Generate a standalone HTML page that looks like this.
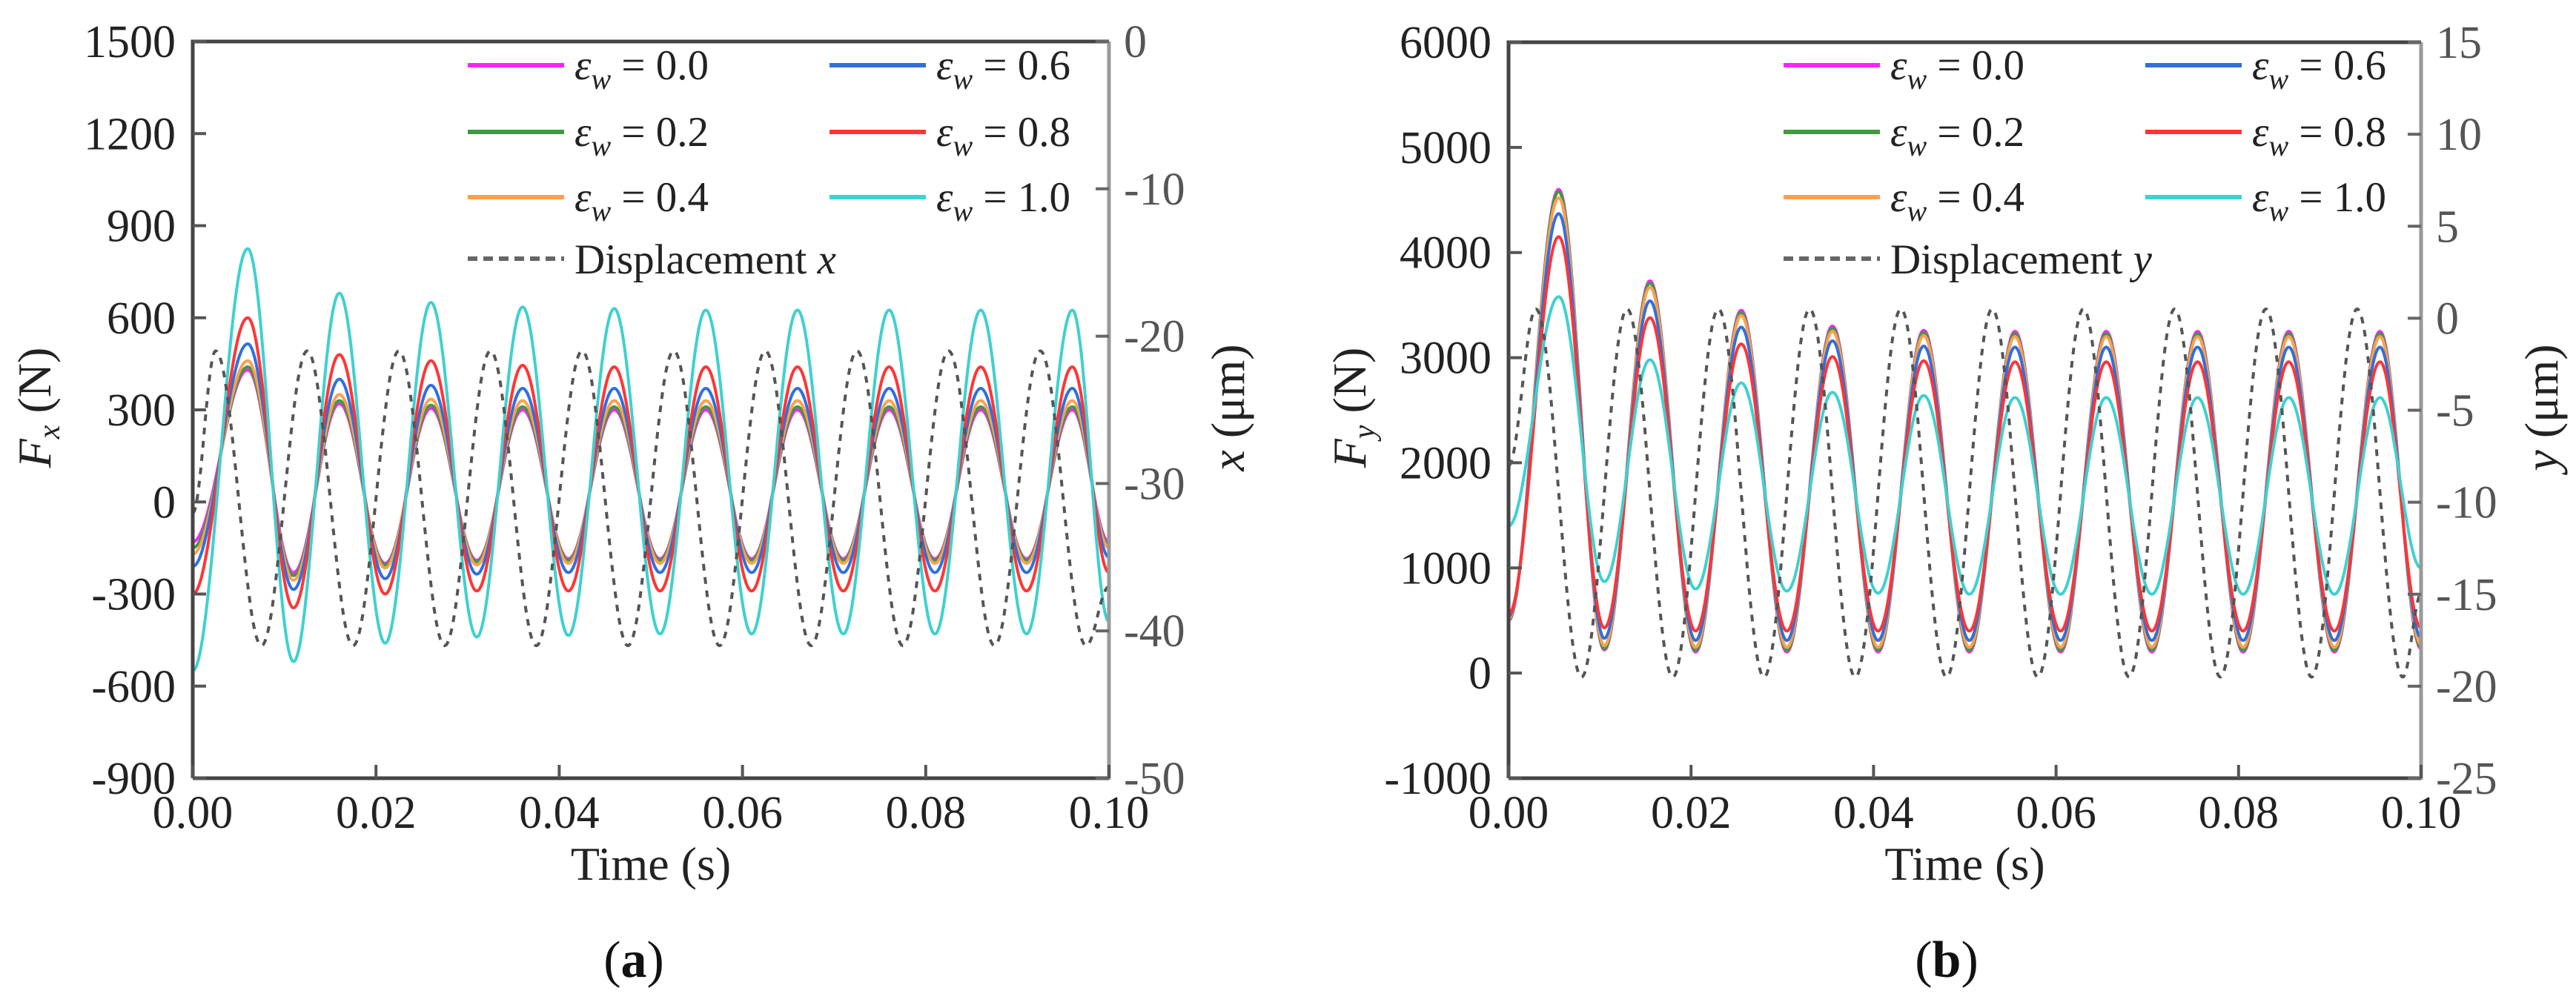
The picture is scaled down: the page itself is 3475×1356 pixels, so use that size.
<!DOCTYPE html>
<html><head><meta charset="utf-8"><style>
html,body{margin:0;padding:0;background:#fff;}
svg{display:block;}
text{font-family:"Liberation Serif",serif;}
</style></head><body>
<svg id="fig" width="3475" height="1356" viewBox="0 0 3475 1356" xmlns="http://www.w3.org/2000/svg"></svg>
<script>
// ---------- Panel (a) data ----------
const aTimes = [0, 0.006, 0.011, 0.016, 0.021, 0.026, 0.031, 0.036, 0.041, 0.046, 0.051, 0.056, 0.061, 0.066, 0.071, 0.076, 0.081, 0.086, 0.091, 0.096, 0.1];
const aE00 = [-130, 430, -230, 320, -200, 305, -190, 300, -185, 300, -185, 300, -185, 300, -185, 300, -185, 300, -185, 300, -130];
const aE02 = [-150, 440, -240, 330, -205, 315, -195, 310, -190, 310, -190, 310, -190, 310, -190, 310, -190, 310, -190, 310, -140];
const aE04 = [-170, 460, -255, 350, -215, 335, -205, 330, -200, 330, -200, 330, -200, 330, -200, 330, -200, 330, -200, 330, -150];
const aE06 = [-210, 515, -285, 400, -250, 380, -235, 370, -230, 370, -230, 370, -230, 370, -230, 370, -230, 370, -230, 370, -180];
const aE08 = [-300, 600, -345, 480, -300, 460, -290, 445, -290, 440, -290, 440, -290, 440, -290, 440, -290, 440, -290, 440, -230];
const aE10 = [-550, 825, -520, 680, -460, 650, -440, 635, -435, 630, -430, 625, -430, 625, -430, 625, -430, 625, -430, 625, -390];
const aDispTimes = [0, 0.0025, 0.0075, 0.0125, 0.0175, 0.0225, 0.0275, 0.0325, 0.0375, 0.0425, 0.0475, 0.0525, 0.0575, 0.0625, 0.0675, 0.0725, 0.0775, 0.0825, 0.0875, 0.0925, 0.0975, 0.1];
const aDisp = [-32, -21, -41, -21, -41, -21, -41, -21, -41, -21, -41, -21, -41, -21, -41, -21, -41, -21, -41, -21, -41, -37];
const aLeftTicks = [1500, 1200, 900, 600, 300, 0, -300, -600, -900];
const aRightTicks = [0, -10, -20, -30, -40, -50];
// ---------- Panel (b) data ----------
const bTimes = [0, 0.0055, 0.0105, 0.0155, 0.0205, 0.0255, 0.0305, 0.0355, 0.0405, 0.0455, 0.0505, 0.0555, 0.0605, 0.0655, 0.0705, 0.0755, 0.0805, 0.0855, 0.0905, 0.0955, 0.1];
const bE00 = [500, 4600, 220, 3730, 200, 3450, 200, 3300, 200, 3260, 200, 3250, 200, 3250, 200, 3250, 200, 3250, 200, 3250, 230];
const bE02 = [510, 4580, 230, 3710, 215, 3430, 215, 3280, 215, 3240, 215, 3230, 215, 3230, 215, 3230, 215, 3230, 215, 3230, 245];
const bE04 = [520, 4520, 260, 3670, 245, 3400, 245, 3250, 245, 3210, 245, 3200, 245, 3200, 245, 3200, 245, 3200, 245, 3200, 275];
const bE06 = [540, 4370, 330, 3540, 310, 3290, 310, 3160, 310, 3110, 310, 3100, 310, 3100, 310, 3100, 310, 3100, 310, 3100, 340];
const bE08 = [560, 4150, 430, 3380, 400, 3130, 400, 3010, 400, 2970, 400, 2960, 400, 2960, 400, 2960, 400, 2960, 400, 2960, 430];
const bE10 = [1400, 3580, 870, 2980, 800, 2760, 780, 2670, 760, 2640, 750, 2620, 750, 2620, 750, 2620, 750, 2620, 750, 2620, 1000];
const bDispTimes = [0, 0.003, 0.008, 0.013, 0.018, 0.023, 0.028, 0.033, 0.038, 0.043, 0.048, 0.053, 0.058, 0.063, 0.068, 0.073, 0.078, 0.083, 0.088, 0.093, 0.098, 0.1];
const bDisp = [-8, 0.5, -19.5, 0.5, -19.5, 0.5, -19.5, 0.5, -19.5, 0.5, -19.5, 0.5, -19.5, 0.5, -19.5, 0.5, -19.5, 0.5, -19.5, 0.5, -19.5, -15];
const bLeftTicks = [6000, 5000, 4000, 3000, 2000, 1000, 0, -1000];
const bRightTicks = [15, 10, 5, 0, -5, -10, -15, -20, -25];
const xTicks = [0, 0.02, 0.04, 0.06, 0.08, 0.10];
const legendLabels = ["0.0", "0.2", "0.4", "0.6", "0.8", "1.0"];
const colors = ["#ff22ff", "#3f9a3f", "#ffa050", "#2f6fe0", "#ff3535", "#3fd0d0"];

const NS = "http://www.w3.org/2000/svg";
const svg = document.getElementById("fig");
function mk(tag, attrs, parent) {
  const e = document.createElementNS(NS, tag);
  for (const k in attrs) e.setAttribute(k, attrs[k]);
  (parent || svg).appendChild(e);
  return e;
}

function buildPanel(cfg) {
  const g = mk("g", {});
  
  
  const L = cfg.left, R = cfg.right, T = cfg.top, B = cfg.bottom;
  const xs = t => L + (t - 0) / 0.1 * (R - L);
  const yl = v => T + (cfg.lMax - v) / (cfg.lMax - cfg.lMin) * (B - T);
  const yr = v => T + (cfg.rMax - v) / (cfg.rMax - cfg.rMin) * (B - T);

  function curve(times, vals, ys, dip) {
    let d = "";
    if (dip) d += "M" + xs(0).toFixed(1) + "," + B + " L" + xs(0).toFixed(1) + "," + ys(vals[0]).toFixed(1);
    else d += "M" + xs(0).toFixed(1) + "," + ys(vals[0]).toFixed(1);
    for (let i = 0; i < times.length - 1; i++) {
      const x1 = xs(times[i]), x2 = xs(times[i + 1]);
      const n = Math.max(4, Math.round(x2 - x1));
      for (let k = 1; k <= n; k++) {
        const u = k / n;
        const v = vals[i] + (vals[i + 1] - vals[i]) * (1 - Math.cos(Math.PI * u)) / 2;
        d += " L" + (x1 + (x2 - x1) * u).toFixed(1) + "," + ys(v).toFixed(1);
      }
    }
    return d;
  }

  cfg.series.forEach((vals, i) => {
    const p = mk("path", {d: curve(cfg.times, vals, yl, true), fill: "none", stroke: colors[i], "stroke-width": 4, "stroke-linejoin": "round"}, g);
    
    
  });
  const dp = mk("path", {d: curve(cfg.dispTimes, cfg.disp, yr, false), fill: "none", stroke: "#555", "stroke-width": 4, "stroke-dasharray": "9,9"}, g);
  
  

  const fr = mk("path", {d: `M${L},${B} L${L},${T} L${R},${T}`, fill: "none", stroke: "#444", "stroke-width": 5}, g);
  
  
  const bx = mk("line", {x1: L, y1: B, x2: R, y2: B, stroke: "#444", "stroke-width": 5}, g);
  
  
  const rx = mk("line", {x1: R, y1: T, x2: R, y2: B + 2, stroke: "#999", "stroke-width": 5}, g);
  
  

  cfg.lTicks.forEach(v => {
    const y = yl(v);
    mk("line", {x1: L, y1: y, x2: L + 18, y2: y, stroke: "#555", "stroke-width": 4}, g);
    const t = mk("text", {x: L - 23, y: y + 21, "text-anchor": "end", "font-size": 62, fill: "#222"}, g);
    t.textContent = v;
    
    
  });
  cfg.rTicks.forEach(v => {
    const y = yr(v);
    mk("line", {x1: R, y1: y, x2: R - 18, y2: y, stroke: "#666", "stroke-width": 4}, g);
    const t = mk("text", {x: R + 20, y: y + 21, "font-size": 62, fill: "#555"}, g);
    t.textContent = v;
    
    
  });
  xTicks.forEach(v => {
    const x = xs(v);
    mk("line", {x1: x, y1: B, x2: x, y2: B - 18, stroke: "#555", "stroke-width": 4}, g);
    const t = mk("text", {x: x, y: B + 67, "text-anchor": "middle", "font-size": 62, fill: "#222"}, g);
    t.textContent = v.toFixed(2);
    
    
  });

  const xt = mk("text", {x: (L + R) / 2, y: B + 137, "text-anchor": "middle", "font-size": 64, fill: "#222"}, g);
  xt.textContent = "Time (s)";
  
  
  const ylt = mk("text", {transform: `translate(${cfg.lTitleX},550) rotate(-90)`, "text-anchor": "middle", "font-size": 64, fill: "#222"}, g);
  ylt.innerHTML = `<tspan font-style="italic">F</tspan><tspan font-style="italic" font-size="42" dy="12">${cfg.sub}</tspan><tspan dy="-12"> (N)</tspan>`;
  
  
  const yrt = mk("text", {transform: `translate(${cfg.rTitleX},550) rotate(-90)`, "text-anchor": "middle", "font-size": 64, fill: "#222"}, g);
  yrt.innerHTML = `<tspan font-style="italic">${cfg.sub}</tspan> (μm)`;
  
  

  const rowsY = [88, 178, 266];
  legendLabels.forEach((lab, i) => {
    const col = i < 3 ? 0 : 1, row = i % 3;
    const lx = cfg.legX[col], y = rowsY[row];
    const ln = mk("line", {x1: lx, y1: y, x2: lx + 130, y2: y, stroke: colors[i], "stroke-width": 6}, g);
    
    
    const t = mk("text", {x: lx + 144, y: y + 19, "font-size": 57, fill: "#222"}, g);
    t.innerHTML = `<tspan font-style="italic">ε</tspan><tspan font-style="italic" font-size="40" dy="13">w</tspan><tspan dy="-13"> = ${lab}</tspan>`;
    
    
  });
  const dl = mk("line", {x1: cfg.legX[0], y1: 349, x2: cfg.legX[0] + 130, y2: 349, stroke: "#666", "stroke-width": 6, "stroke-dasharray": "13,8"}, g);
  
  
  const dt = mk("text", {x: cfg.legX[0] + 144, y: 369, "font-size": 57, fill: "#222"}, g);
  dt.innerHTML = `Displacement <tspan font-style="italic">${cfg.sub}</tspan>`;
  
  

  const pl = mk("text", {x: cfg.labX, y: 1318, "text-anchor": "middle", "font-size": 70, fill: "#111"}, g);
  pl.innerHTML = `(<tspan font-weight="bold">${cfg.label}</tspan>)`;
  
  
}

buildPanel({name: "panel-a-fx", left: 260, right: 1496, top: 56, bottom: 1050,
  lMax: 1500, lMin: -900, rMax: 0, rMin: -50, lTicks: aLeftTicks, rTicks: aRightTicks,
  times: aTimes, series: [aE00, aE02, aE04, aE06, aE08, aE10], dispTimes: aDispTimes, disp: aDisp,
  sub: "x", lTitleX: 68, rTitleX: 1678, legX: [631, 1119], labX: 855, label: "a"});
buildPanel({name: "panel-b-fy", left: 2035, right: 3266, top: 57, bottom: 1050,
  lMax: 6000, lMin: -1000, rMax: 15, rMin: -25, lTicks: bLeftTicks, rTicks: bRightTicks,
  times: bTimes, series: [bE00, bE02, bE04, bE06, bE08, bE10], dispTimes: bDispTimes, disp: bDisp,
  sub: "y", lTitleX: 1842, rTitleX: 3450, legX: [2406, 2894], labX: 2626, label: "b"});
</script>
</body></html>
